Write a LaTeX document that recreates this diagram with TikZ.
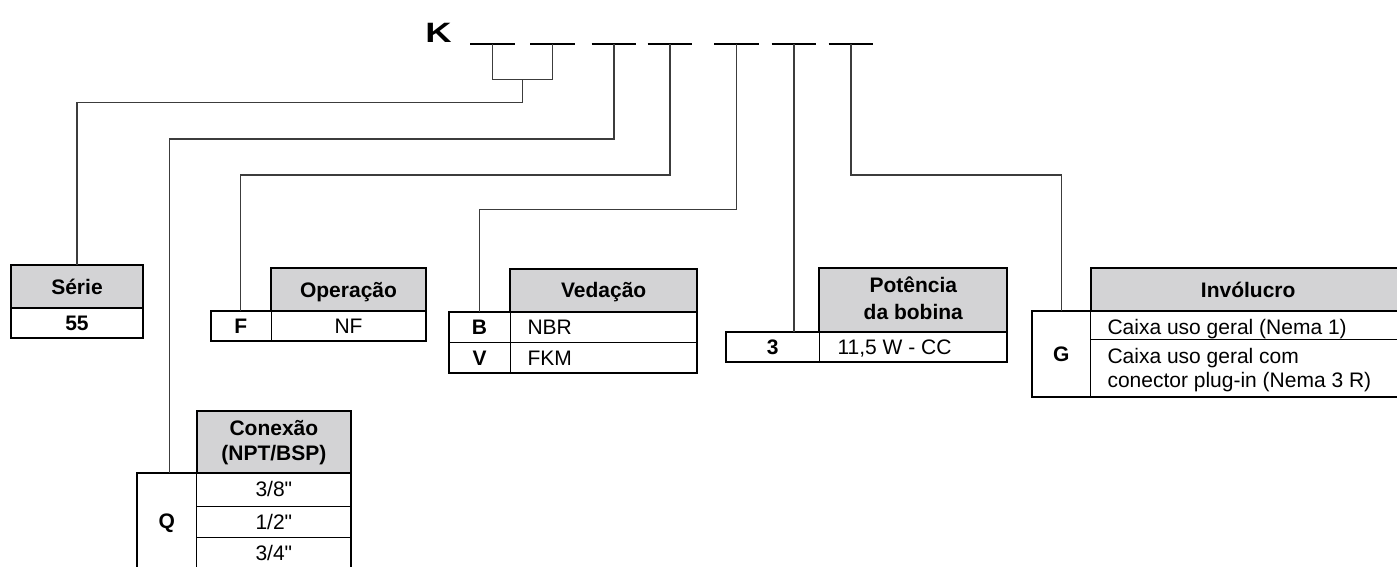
\documentclass[tikz,border=0pt]{standalone}
\usepackage{fontspec}
\setmainfont{Liberation Sans}[Ligatures=TeXOff]
\definecolor{hdrgray}{RGB}{211,211,213}
\definecolor{conncol}{RGB}{60,60,60}
\newcommand{\fsz}{\fontsize{21}{25}\selectfont}
\begin{document}
\begin{tikzpicture}[x=1pt,y=-1pt,
  cell/.style={draw=black, line width=1pt, anchor=north west, inner sep=0pt, outer sep=0pt, font=\fsz, text height=15pt, text depth=0pt},
  hdr/.style={cell, fill=hdrgray, line width=2pt, font=\fsz\bfseries},
  code/.style={cell, font=\fsz\bfseries},
  frame/.style={draw=black, line width=2pt},
  conn/.style={draw=conncol, line width=1.1pt},
  dashline/.style={draw=black, line width=2pt},
  lbl/.style={anchor=base west, inner sep=0pt, font=\fsz},
  hb/.style={anchor=base, inner sep=0pt, font=\fsz\bfseries}
]
\useasboundingbox (0,0) rectangle (1397,566);
\fill[white] (0,0) rectangle (1397,566);

% code letter and dashes
\node[inner sep=0pt, anchor=base, font=\fontsize{28}{28}\selectfont\bfseries] (K) at (438.5,42) {\scalebox{1.3}[1]{K}};
\coordinate (d1) at (492.7,44);
\coordinate (d2) at (552.7,44);
\coordinate (d3) at (614,44);
\coordinate (d4) at (670,44);
\coordinate (d5) at (736.7,44);
\coordinate (d6) at (794,44);
\coordinate (d7) at (851,44);
\foreach \d in {d1,d2,d3,d4,d5,d6,d7}
  \draw[dashline] ([xshift=-22.3pt]\d) -- ([xshift=22.3pt]\d);

% Serie
\node[hdr, minimum width=132.6pt, minimum height=43.3pt] (serieH) at (10.7,265) {Série};
\node[code, minimum width=132.6pt, minimum height=30pt] (serie55) at (10.7,308.3) {55};
\draw[frame] (serie55.north west) rectangle (serie55.south east);

% Operacao
\node[hdr, minimum width=155pt, minimum height=42.4pt] (opH) at (271,268.3) {Operação};
\node[code, minimum width=60.3pt, minimum height=30pt] (opF) at (210.7,310.7) {F};
\node[cell, minimum width=155pt, minimum height=30pt] (opNF) at (271,310.7) {NF};
\draw[frame] (opF.north west) rectangle (opNF.south east);

% Vedacao
\node[hdr, minimum width=187.3pt, minimum height=42.7pt] (vdH) at (510,269) {Vedação};
\node[code, minimum width=61pt, minimum height=30.8pt] (vdB) at (449,311.7) {B};
\node[code, minimum width=61pt, minimum height=30.8pt] (vdV) at (449,342.5) {V};
\node[cell, minimum width=187.3pt, minimum height=30.8pt] (vdNBR) at (510,311.7) {};
\node[cell, minimum width=187.3pt, minimum height=30.8pt] (vdFKM) at (510,342.5) {};
\node[lbl] (tNBR) at (527.3,334.3) {NBR};
\node[lbl] (tFKM) at (527.3,365.1) {FKM};
\draw[frame] (vdB.north west) rectangle (vdFKM.south east);

% Potencia
\node[hdr, minimum width=188pt, minimum height=64pt] (ptH) at (819.3,268.3) {};
\node[hb] (ptH1) at (913.3,292.7) {Potência};
\node[hb] (ptH2) at (913.3,319) {da bobina};
\node[code, minimum width=93.3pt, minimum height=30pt] (pt3) at (726,332.3) {3};
\node[cell, minimum width=188pt, minimum height=30pt] (ptV) at (819.3,332.3) {};
\node[lbl] (tPt) at (837.3,354.6) {11,5 W - CC};
\draw[frame] (pt3.north west) rectangle (ptV.south east);

% Involucro
\node[hdr, minimum width=315pt, minimum height=42.7pt] (ivH) at (1090.7,268.3) {Invólucro};
\node[code, minimum width=59pt, minimum height=86pt] (ivG) at (1031.7,311) {G};
\node[cell, minimum width=315pt, minimum height=28.3pt] (ivR1) at (1090.7,311) {};
\node[cell, minimum width=315pt, minimum height=57.7pt] (ivR2) at (1090.7,339.3) {};
\node[lbl] (tIv1) at (1107.3,334) {Caixa uso geral (Nema 1)};
\node[lbl] (tIv2) at (1107.3,363) {Caixa uso geral com};
\node[lbl] (tIv3) at (1107.3,387) {conector plug-in (Nema 3 R)};
\draw[frame] (ivG.north west) rectangle (ivR2.south east);

% Conexao
\node[hdr, minimum width=154.3pt, minimum height=61.7pt] (cxH) at (196.7,411) {};
\node[hb] (cxH1) at (273.85,435) {Conexão};
\node[hb] (cxH2) at (273.85,460) {(NPT/BSP)};
\node[code, minimum width=60pt, minimum height=96.3pt] (cxQ) at (136.7,472.7) {Q};
\node[cell, minimum width=154.3pt, minimum height=33.3pt] (cx1) at (196.7,472.7) {3/8"};
\node[cell, minimum width=154.3pt, minimum height=31.7pt] (cx2) at (196.7,506) {1/2"};
\node[cell, minimum width=154.3pt, minimum height=31.3pt] (cx3) at (196.7,537.7) {3/4"};
\draw[frame] (cxQ.north west) rectangle (cx3.south east);

% connectors
\coordinate (bk) at (522.7,79.3);
\coordinate (l1) at (0,102.7);
\coordinate (l3) at (0,139);
\coordinate (l4) at (0,175);
\coordinate (l5) at (0,209.3);
\coordinate (qtop) at ([xshift=2.6pt]cxQ.north);
\draw[conn] (d1) -- (d1 |- bk) -- (d2 |- bk) -- (d2);
\draw[conn] (bk) -- (bk |- l1) -- (serieH.north |- l1) -- (serieH.north);
\draw[conn] (d3) -- (d3 |- l3) -- (qtop |- l3) -- (qtop);
\draw[conn] (d4) -- (d4 |- l4) -- (opF.north |- l4) -- (opF.north);
\draw[conn] (d5) -- (d5 |- l5) -- (vdB.north |- l5) -- (vdB.north);
\draw[conn] (d6) -- (d6 |- pt3.north);
\draw[conn] (d7) -- (d7 |- l4) -- (ivG.north |- l4) -- (ivG.north);
\end{tikzpicture}
\end{document}
